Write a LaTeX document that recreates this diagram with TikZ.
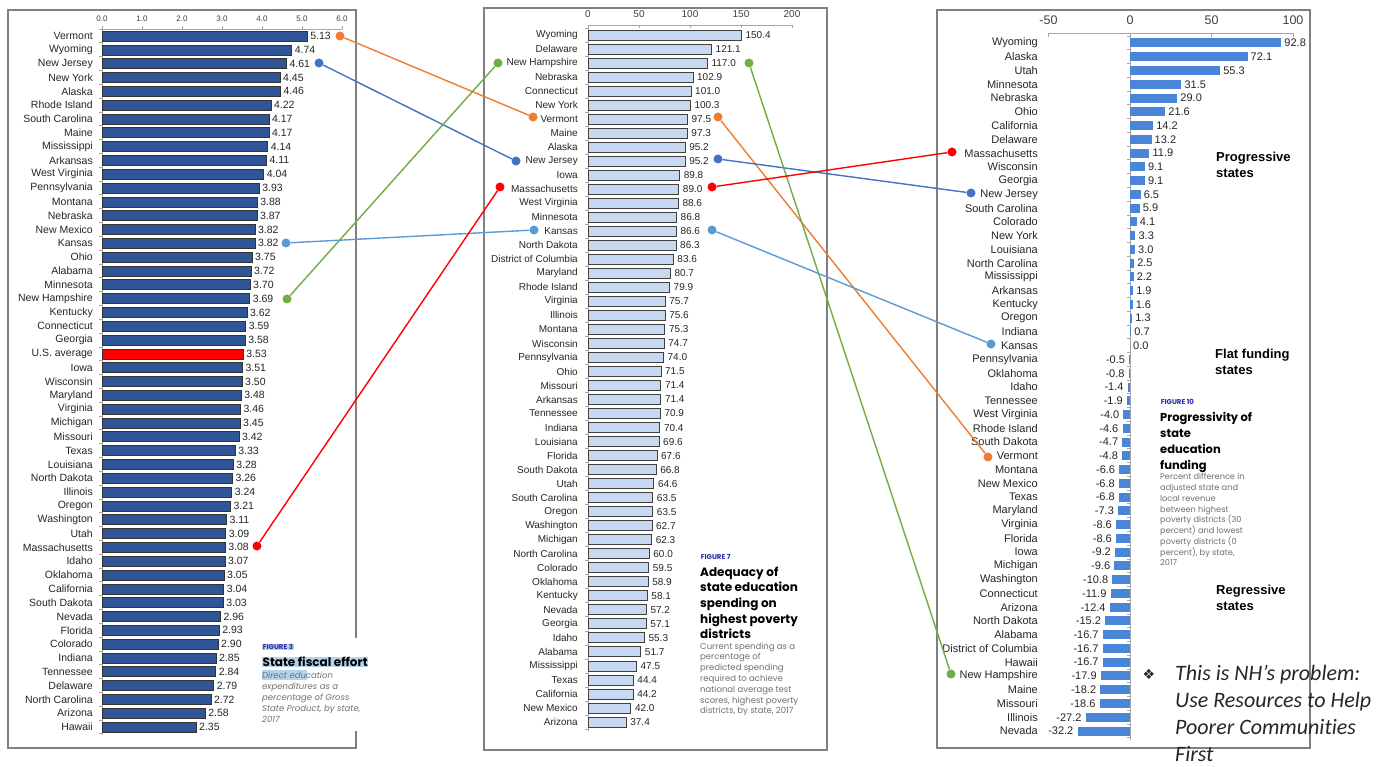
\documentclass[tikz,border=0pt]{standalone}
\usepackage{fontspec}
\setmainfont{Liberation Sans}
\newfontfamily\capfont{Poppins}
\newfontfamily\notefont[Ligatures=NoCommon]{Carlito}
\newfontfamily\symbfont{DejaVu Sans}
\definecolor{lbarc}{HTML}{2F5597}
\definecolor{mbarc}{HTML}{C6D9F1}
\definecolor{rbarc}{HTML}{4A86D8}
\definecolor{cOrange}{HTML}{ED7D31}
\definecolor{cBlue}{HTML}{4472C4}
\definecolor{cGreen}{HTML}{70AD47}
\definecolor{cLBlue}{HTML}{5B9BD5}
\definecolor{cRed}{HTML}{FF0000}
\definecolor{figblue}{HTML}{2B2BA8}
\definecolor{hilite}{HTML}{B4D3EE}
\definecolor{framec}{HTML}{808080}
\definecolor{descc}{HTML}{707070}
\begin{document}
\begin{tikzpicture}[x=1pt,y=-1pt,
  panel/.style={draw=framec, line width=1.3pt},
  labL/.style={anchor=east, inner sep=0pt, font=\fontsize{10.5}{11}\selectfont, text=black!85},
  valL/.style={anchor=west, inner sep=0pt, font=\fontsize{10.5}{11}\selectfont, text=black!85},
  labM/.style={anchor=east, inner sep=0pt, font=\fontsize{10}{11}\selectfont, text=black!85},
  valM/.style={anchor=west, inner sep=0pt, font=\fontsize{10}{11}\selectfont, text=black!85},
  labR/.style={anchor=east, inner sep=0pt, font=\fontsize{11}{12}\selectfont, text=black!85},
  valR/.style={inner sep=0pt, font=\fontsize{11}{12}\selectfont, text=black!85},
  ticklab/.style={inner sep=0pt, text=black!75},
  axisline/.style={draw=black!35, line width=0.7pt},
  pindot/.style={circle, fill=#1, inner sep=0pt, minimum size=9pt},
  conn/.style={draw=#1, line width=1.4pt},
  figlab/.style={anchor=west, inner sep=0.6pt, font=\capfont\bfseries\fontsize{7}{8}\selectfont, text=figblue},
  figtitle/.style={anchor=north west, inner sep=0pt, align=left, font=\capfont\bfseries\fontsize{12}{15.7}\selectfont},
  figdesc/.style={anchor=north west, inner sep=0pt, align=left, text=descc, font=\capfont\fontsize{8.5}{10.8}\selectfont},
  region/.style={anchor=north west, inner sep=0pt, align=left, font=\bfseries\fontsize{13}{16}\selectfont},
]
\useasboundingbox (0,0) rectangle (1387,767);
\fill[white] (0,0) rectangle (1387,767);

% ---------------- left panel ----------------
\draw[panel] (8,10) rectangle (356,748);
\draw[axisline] (102,29) -- (342,29);
\draw[axisline] (102,29) -- (102,735);
\foreach \k/\t in {0/0.0,1/1.0,2/2.0,3/3.0,4/4.0,5/5.0,6/6.0}{
  \draw[axisline] (102+\k*40,29) -- (102+\k*40,26);
  \node[ticklab, font=\fontsize{8}{9}\selectfont] at (102+\k*40,19) {\t};
}
\foreach \k in {0,...,51}{\draw[axisline] (99,29+\k*13.82) -- (102,29+\k*13.82);}
\foreach \nm/\v [count=\i] in {Vermont/5.13, Wyoming/4.74, New Jersey/4.61, New York/4.45, Alaska/4.46, Rhode Island/4.22, South Carolina/4.17, Maine/4.17, Mississippi/4.14, Arkansas/4.11, West Virginia/4.04, Pennsylvania/3.93, Montana/3.88, Nebraska/3.87, New Mexico/3.82, Kansas/3.82, Ohio/3.75, Alabama/3.72, Minnesota/3.70, New Hampshire/3.69, Kentucky/3.62, Connecticut/3.59, Georgia/3.58, U.S. average/3.53, Iowa/3.51, Wisconsin/3.50, Maryland/3.48, Virginia/3.46, Michigan/3.45, Missouri/3.42, Texas/3.33, Louisiana/3.28, North Dakota/3.26, Illinois/3.24, Oregon/3.21, Washington/3.11, Utah/3.09, Massachusetts/3.08, Idaho/3.07, Oklahoma/3.05, California/3.04, South Dakota/3.03, Nevada/2.96, Florida/2.93, Colorado/2.90, Indiana/2.85, Tennessee/2.84, Delaware/2.79, North Carolina/2.72, Arizona/2.58, Hawaii/2.35}{
  \pgfmathsetmacro\yy{36+(\i-1)*13.82}
  \ifnum\i=24 \def\bc{cRed}\else\def\bc{lbarc}\fi
  \filldraw[fill=\bc, draw=black!80, line width=0.6pt] (102,\yy-5) rectangle (102+\v*40,\yy+5);
  \node[labL] (L\i) at (93,\yy) {\nm};
  \node[valL] (LV\i) at (102+\v*40+3,\yy) {\v};
}
% caption figure 3
\fill[white] (258,638) rectangle (376,731);
\node[figlab, fill=hilite] (f3) at (262,647) {FIGURE 3};
\node[figtitle, anchor=west, fill=hilite, inner sep=0.5pt] (t3) at (262,662) {State fiscal effort};
\fill[hilite] (262,670) rectangle (307,680);
\node[figdesc, font=\capfont\itshape\fontsize{8.5}{11.2}\selectfont] (d3) at (262,671.5) {Direct education\\expenditures as a\\percentage of Gross\\State Product, by state,\\2017};

% ---------------- middle panel ----------------
\draw[panel] (484,8) rectangle (827,750);
\draw[axisline] (588,25) -- (792,25);
\draw[axisline] (588,25) -- (588,731);
\foreach \k in {0,50,100,150,200}{
  \draw[axisline] (588+\k*1.02,25) -- (588+\k*1.02,28);
  \node[ticklab, font=\fontsize{10}{11}\selectfont] at (588+\k*1.02,14) {\k};
}
\foreach \k in {0,...,50}{\draw[axisline] (585,28+\k*14.02) -- (588,28+\k*14.02);}
\foreach \nm/\v [count=\i] in {Wyoming/150.4, Delaware/121.1, New Hampshire/117.0, Nebraska/102.9, Connecticut/101.0, New York/100.3, Vermont/97.5, Maine/97.3, Alaska/95.2, New Jersey/95.2, Iowa/89.8, Massachusetts/89.0, West Virginia/88.6, Minnesota/86.8, Kansas/86.6, North Dakota/86.3, District of Columbia/83.6, Maryland/80.7, Rhode Island/79.9, Virginia/75.7, Illinois/75.6, Montana/75.3, Wisconsin/74.7, Pennsylvania/74.0, Ohio/71.5, Missouri/71.4, Arkansas/71.4, Tennessee/70.9, Indiana/70.4, Louisiana/69.6, Florida/67.6, South Dakota/66.8, Utah/64.6, South Carolina/63.5, Oregon/63.5, Washington/62.7, Michigan/62.3, North Carolina/60.0, Colorado/59.5, Oklahoma/58.9, Kentucky/58.1, Nevada/57.2, Georgia/57.1, Idaho/55.3, Alabama/51.7, Mississippi/47.5, Texas/44.4, California/44.2, New Mexico/42.0, Arizona/37.4}{
  \pgfmathsetmacro\yy{35+(\i-1)*14.02}
  \filldraw[fill=mbarc, draw=black!75, line width=0.8pt] (588,\yy-5) rectangle (588+\v*1.02,\yy+5);
  \node[labM] (M\i) at (578,\yy) {\nm};
  \node[valM] (MV\i) at (588+\v*1.02+4,\yy) {\v};
}
% caption figure 7
\node[figlab] (f7) at (700,557) {FIGURE 7};
\node[figtitle] (t7) at (700,566.5) {Adequacy of\\state education\\spending on\\highest poverty\\districts};
\node[figdesc] (d7) at (700,642.5) {Current spending as a\\percentage of\\predicted spending\\required to achieve\\national average test\\scores, highest poverty\\districts, by state, 2017};

% ---------------- right panel ----------------
\draw[panel] (937,10) rectangle (1310,748);
\draw[axisline] (1048,33) -- (1293,33);
\draw[axisline] (1130,33) -- (1130,740);
\foreach \k in {-50,0,50,100}{
  \draw[axisline] (1130+\k*1.63,33) -- (1130+\k*1.63,37);
  \node[ticklab, font=\fontsize{12.5}{13}\selectfont] at (1130+\k*1.63,20) {\k};
}
\foreach \k in {0,...,51}{\draw[axisline] (1127,36+\k*13.76) -- (1130,36+\k*13.76);}
\foreach \nm/\v [count=\i] in {Wyoming/92.8, Alaska/72.1, Utah/55.3, Minnesota/31.5, Nebraska/29.0, Ohio/21.6, California/14.2, Delaware/13.2, Massachusetts/11.9, Wisconsin/9.1, Georgia/9.1, New Jersey/6.5, South Carolina/5.9, Colorado/4.1, New York/3.3, Louisiana/3.0, North Carolina/2.5, Mississippi/2.2, Arkansas/1.9, Kentucky/1.6, Oregon/1.3, Indiana/0.7, Kansas/0.0, Pennsylvania/-0.5, Oklahoma/-0.8, Idaho/-1.4, Tennessee/-1.9, West Virginia/-4.0, Rhode Island/-4.6, South Dakota/-4.7, Vermont/-4.8, Montana/-6.6, New Mexico/-6.8, Texas/-6.8, Maryland/-7.3, Virginia/-8.6, Florida/-8.6, Iowa/-9.2, Michigan/-9.6, Washington/-10.8, Connecticut/-11.9, Arizona/-12.4, North Dakota/-15.2, Alabama/-16.7, District of Columbia/-16.7, Hawaii/-16.7, New Hampshire/-17.9, Maine/-18.2, Missouri/-18.6, Illinois/-27.2, Nevada/-32.2}{
  \pgfmathsetmacro\yy{43+(\i-1)*13.76}
  \pgfmathsetmacro\xe{1130+(\v)*1.63}
  \fill[rbarc] (1130,\yy-4.5) rectangle (\xe,\yy+4.5);
  \node[labR] (R\i) at (1038,\yy) {\nm};
  \ifdim \v pt<0pt
    \node[valR, anchor=east] (RV\i) at (\xe-4,\yy) {\v};
  \else
    \node[valR, anchor=west] (RV\i) at (\xe+3,\yy) {\v};
  \fi
}
\node[region] (prog) at (1216,152.3) {Progressive\\states};
\node[region] (flat) at (1215,349.3) {Flat funding\\states};
\node[region] (regr) at (1216,585.3) {Regressive\\states};
% caption figure 10
\node[figlab] (f10) at (1160,402) {FIGURE 10};
\node[figtitle, font=\capfont\bfseries\fontsize{11.5}{16}\selectfont] (t10) at (1160,412) {Progressivity of\\state\\education\\funding};
\node[figdesc, font=\capfont\fontsize{8.2}{10.75}\selectfont] (d10) at (1160,473.5) {Percent difference in\\adjusted state and\\local revenue\\between highest\\poverty districts (30\\percent) and lowest\\poverty districts (0\\percent), by state,\\2017};

% ---------------- note ----------------
\node[anchor=center, inner sep=0pt, font=\symbfont\fontsize{14}{14}\selectfont, text=black!85] (bul) at (1149,674) {❖};
\node[anchor=north west, align=left, inner sep=0pt, font=\notefont\itshape\fontsize{22}{27}\selectfont, text=black!85] (note) at (1175,665) {This is NH’s problem:\\Use Resources to Help\\Poorer Communities\\First};

% ---------------- connectors ----------------
\node[pindot=cOrange] (oA) at (340,36) {};
\node[pindot=cOrange] (oB) at (533,117) {};
\node[pindot=cOrange] (oC) at (718,117) {};
\node[pindot=cOrange] (oD) at (988,457) {};
\node[pindot=cBlue] (bA) at (319,63) {};
\node[pindot=cBlue] (bB) at (516,161) {};
\node[pindot=cBlue] (bC) at (718,159) {};
\node[pindot=cBlue] (bD) at (971,193) {};
\node[pindot=cGreen] (gA) at (287,299) {};
\node[pindot=cGreen] (gB) at (498,63) {};
\node[pindot=cGreen] (gC) at (749,63) {};
\node[pindot=cGreen] (gD) at (951,674) {};
\node[pindot=cLBlue] (kA) at (286,243) {};
\node[pindot=cLBlue] (kB) at (534,230) {};
\node[pindot=cLBlue] (kC) at (712,230) {};
\node[pindot=cLBlue] (kD) at (991,344) {};
\node[pindot=cRed] (rA) at (257,546) {};
\node[pindot=cRed] (rB) at (500,187) {};
\node[pindot=cRed] (rC) at (712,187) {};
\node[pindot=cRed] (rD) at (952,152) {};
\draw[conn=cOrange] (oA) -- (oB);
\draw[conn=cOrange] (oC) -- (oD);
\draw[conn=cBlue] (bA) -- (bB);
\draw[conn=cBlue] (bC) -- (bD);
\draw[conn=cGreen] (gA) -- (gB);
\draw[conn=cGreen] (gC) -- (gD);
\draw[conn=cLBlue] (kA) -- (kB);
\draw[conn=cLBlue] (kC) -- (kD);
\draw[conn=cRed] (rA) -- (rB);
\draw[conn=cRed] (rC) -- (rD);
\end{tikzpicture}
\end{document}
